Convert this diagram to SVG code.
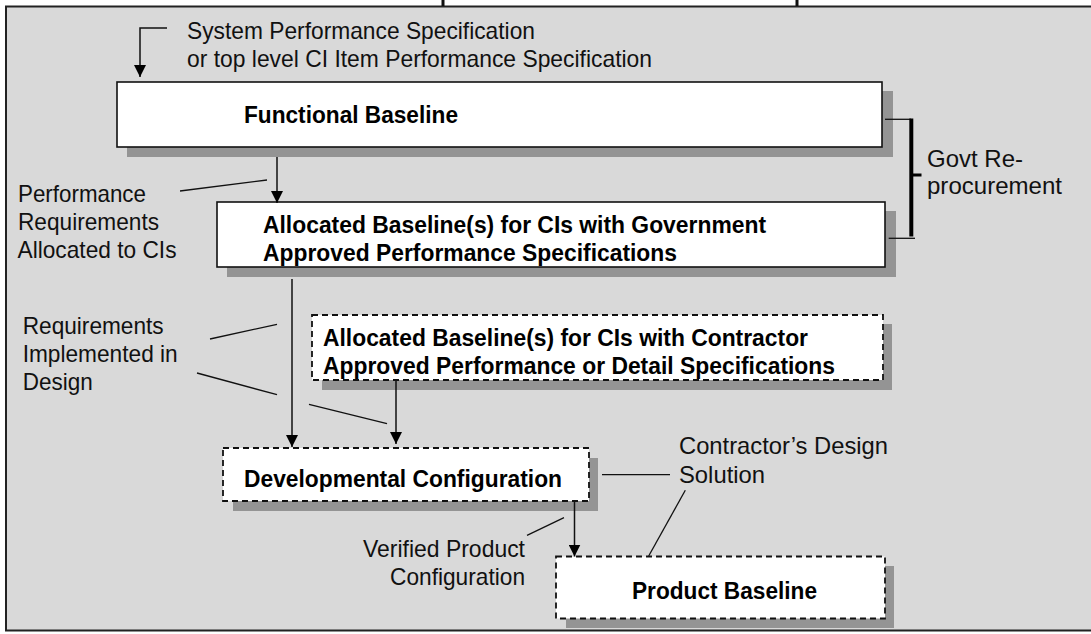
<svg xmlns="http://www.w3.org/2000/svg" width="1091" height="634" viewBox="0 0 1091 634">
  <defs>
    <marker id="arrow" markerUnits="userSpaceOnUse" markerWidth="12" markerHeight="12" refX="12" refY="6" orient="auto">
      <path d="M0,0 L12,6 L0,12 z" fill="#000"/>
    </marker>
    <style>
      .lbl { font-family: "Liberation Sans", Arial, sans-serif; font-size: 23.6px; fill: #111; }
      .hdr { font-family: "Liberation Sans", Arial, sans-serif; font-size: 24.2px; font-weight: bold; fill: #000; }
      .shadow { fill: #949494; }
      .box { fill: #fff; stroke: #111; stroke-width: 1.6; }
      .dash { fill: #fff; stroke: #111; stroke-width: 1.8; stroke-dasharray: 6 4; }
      .link { fill: none; stroke: #111; stroke-width: 1.5; }
      .note { fill: none; stroke: #111; stroke-width: 1.3; }
    </style>
  </defs>

  <!-- page and frame -->
  <rect x="0" y="0" width="1091" height="634" fill="#fff"/>
  <rect x="6" y="6.5" width="1085" height="623.5" fill="#d9d9d9"/>
  <g id="frame" stroke="#222" stroke-width="2" fill="none">
    <line x1="5" y1="6.5" x2="1091" y2="6.5"/>
    <line x1="6" y1="6" x2="6" y2="631"/>
    <line x1="5" y1="630.5" x2="1091" y2="630.5"/>
  </g>
  <rect x="441.5" y="0" width="3" height="6" fill="#111"/>
  <rect x="795.5" y="0" width="3" height="6" fill="#111"/>

  <!-- source note -->
  <g id="source-note">
    <text class="lbl" x="187" y="39" textLength="348" lengthAdjust="spacingAndGlyphs">System Performance Specification</text>
    <text class="lbl" x="187" y="66.5" textLength="465" lengthAdjust="spacingAndGlyphs">or top level CI Item Performance Specification</text>
  </g>

  <!-- Functional Baseline -->
  <g id="functional-baseline">
    <rect class="shadow" x="127" y="91" width="766" height="66"/>
    <rect class="box" x="117" y="82" width="765" height="65"/>
    <text class="hdr" x="244" y="123" textLength="214" lengthAdjust="spacingAndGlyphs">Functional Baseline</text>
  </g>

  <!-- Allocated Baseline, Government approved -->
  <g id="allocated-government">
    <rect class="shadow" x="227" y="211" width="669" height="66"/>
    <rect class="box" x="217" y="202" width="668" height="65"/>
    <text class="hdr" x="263" y="232.5" textLength="503" lengthAdjust="spacingAndGlyphs">Allocated Baseline(s) for CIs with Government</text>
    <text class="hdr" x="263" y="261" textLength="414" lengthAdjust="spacingAndGlyphs">Approved Performance Specifications</text>
  </g>

  <!-- Allocated Baseline, Contractor approved -->
  <g id="allocated-contractor">
    <rect class="shadow" x="322" y="324" width="570" height="66"/>
    <rect class="dash" x="312" y="315" width="571" height="65"/>
    <text class="hdr" x="323" y="345.5" textLength="485" lengthAdjust="spacingAndGlyphs">Allocated Baseline(s) for CIs with Contractor</text>
    <text class="hdr" x="323" y="373.7" textLength="512" lengthAdjust="spacingAndGlyphs">Approved Performance or Detail Specifications</text>
  </g>

  <!-- Developmental Configuration -->
  <g id="developmental-configuration">
    <rect class="shadow" x="233" y="458" width="365" height="53"/>
    <rect class="dash" x="223" y="448" width="366" height="53"/>
    <text class="hdr" x="244" y="487" textLength="318" lengthAdjust="spacingAndGlyphs">Developmental Configuration</text>
  </g>

  <!-- Product Baseline -->
  <g id="product-baseline">
    <rect class="shadow" x="566" y="566" width="328" height="62"/>
    <rect class="dash" x="556" y="556.5" width="329" height="62"/>
    <text class="hdr" x="632" y="598.7" textLength="185" lengthAdjust="spacingAndGlyphs">Product Baseline</text>
  </g>

  <!-- side labels -->
  <g id="label-performance">
    <text class="lbl" x="18" y="201.5" textLength="128" lengthAdjust="spacingAndGlyphs">Performance</text>
    <text class="lbl" x="18" y="230" textLength="141" lengthAdjust="spacingAndGlyphs">Requirements</text>
    <text class="lbl" x="17.5" y="258.3" textLength="159" lengthAdjust="spacingAndGlyphs">Allocated to CIs</text>
  </g>
  <g id="label-reprocurement">
    <text class="lbl" x="927" y="166.5" textLength="96" lengthAdjust="spacingAndGlyphs">Govt Re-</text>
    <text class="lbl" x="927" y="193.5" textLength="135" lengthAdjust="spacingAndGlyphs">procurement</text>
  </g>
  <g id="label-design">
    <text class="lbl" x="22.7" y="333.7" textLength="141" lengthAdjust="spacingAndGlyphs">Requirements</text>
    <text class="lbl" x="22.7" y="362" textLength="155" lengthAdjust="spacingAndGlyphs">Implemented in</text>
    <text class="lbl" x="22.7" y="389.7" textLength="70" lengthAdjust="spacingAndGlyphs">Design</text>
  </g>
  <g id="label-verified">
    <text class="lbl" x="363" y="557" textLength="162" lengthAdjust="spacingAndGlyphs">Verified Product</text>
    <text class="lbl" x="390" y="585.3" textLength="135" lengthAdjust="spacingAndGlyphs">Configuration</text>
  </g>
  <g id="label-solution">
    <text class="lbl" x="679" y="453.7" textLength="209" lengthAdjust="spacingAndGlyphs">Contractor’s Design</text>
    <text class="lbl" x="679" y="483" textLength="86" lengthAdjust="spacingAndGlyphs">Solution</text>
  </g>

  <!-- connectors -->
  <g id="connectors">
    <path class="link" d="M167,28 H140 V77" marker-end="url(#arrow)"/>
    <path class="link" d="M277,157 V203" marker-end="url(#arrow)"/>
    <path class="link" d="M292,279 V447" marker-end="url(#arrow)"/>
    <path class="link" d="M396,381 V444" marker-end="url(#arrow)"/>
    <path class="link" d="M574.5,501 V556.5" marker-end="url(#arrow)"/>

    <line class="note" x1="180" y1="191" x2="267" y2="180"/>
    <line class="note" x1="210" y1="339" x2="277" y2="324.3"/>
    <line class="note" x1="197" y1="373" x2="277" y2="394.7"/>
    <line class="note" x1="309" y1="404.3" x2="387" y2="423.7"/>
    <line class="note" x1="602" y1="474.7" x2="670" y2="474.7"/>
    <line class="note" x1="685.3" y1="490.3" x2="648.7" y2="556"/>
    <line class="note" x1="564" y1="517.7" x2="527" y2="535.3"/>

    <!-- re-procurement bracket -->
    <line class="note" x1="885" y1="119.3" x2="911" y2="119.3"/>
    <line class="note" x1="888.7" y1="238.3" x2="915" y2="238.3"/>
    <line x1="911.3" y1="118.5" x2="911.3" y2="236.5" stroke="#000" stroke-width="4"/>
    <line x1="911" y1="175" x2="921.5" y2="175" stroke="#000" stroke-width="3"/>
  </g>
</svg>
